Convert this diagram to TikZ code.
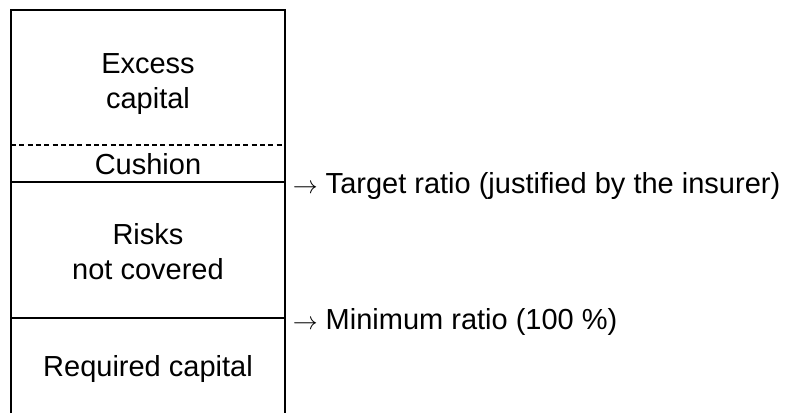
\documentclass[tikz,border=0pt]{standalone}
\usepackage{fontspec}
\setmainfont{Liberation Sans}
\usetikzlibrary{positioning}

\begin{document}
\begin{tikzpicture}[x=1pt, y=-1pt, line width=1.6pt,
	every node/.style={font=\fontsize{29}{35}\selectfont, inner sep=0pt}]
	\useasboundingbox (0,0) rectangle (796,413);
	\draw (11,413)--(11,10)--(285,10)--(285,413);
	\draw [dash pattern=on 5pt off 3.3pt] (11,145)--(285,145);
	\draw (11,182)--(285,182);
	\draw (11,318)--(285,318);
	\node [align=center] (excess) at (148,84) {Excess\\capital};
	\node (cushion) at (148,164) {Cushion};
	\node [align=center] (risks) at (148,252) {Risks\\not covered};
	\node (required) at (148,369) {Required capital};
	\node [anchor=west] (target) at (292,186) {$\rightarrow$ Target ratio (justified by the insurer)};
	\node [anchor=west] (minimum) at (292,322) {$\rightarrow$ Minimum ratio (100 \%)};
\end{tikzpicture}
\end{document}
